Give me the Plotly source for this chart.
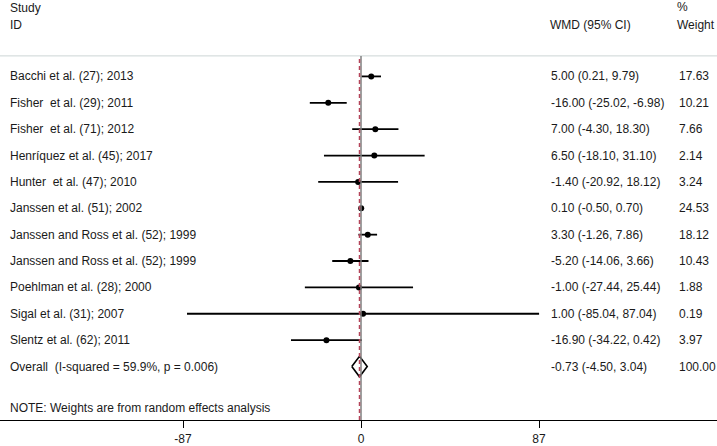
import plotly.graph_objects as go

studies = [
    "Bacchi et al. (27); 2013",
    "Fisher  et al. (29); 2011",
    "Fisher  et al. (71); 2012",
    "Henríquez et al. (45); 2017",
    "Hunter  et al. (47); 2010",
    "Janssen et al. (51); 2002",
    "Janssen and Ross et al. (52); 1999",
    "Janssen and Ross et al. (52); 1999",
    "Poehlman et al. (28); 2000",
    "Sigal et al. (31); 2007",
    "Slentz et al. (62); 2011",
]
wmd = [5.00, -16.00, 7.00, 6.50, -1.40, 0.10, 3.30, -5.20, -1.00, 1.00, -16.90]
lower = [0.21, -25.02, -4.30, -18.10, -20.92, -0.50, -1.26, -14.06, -27.44, -85.04, -34.22]
upper = [9.79, -6.98, 18.30, 31.10, 18.12, 0.70, 7.86, 3.66, 25.44, 87.04, 0.42]
weights = [17.63, 10.21, 7.66, 2.14, 3.24, 24.53, 18.12, 10.43, 1.88, 0.19, 3.97]

overall_label = "Overall  (I-squared = 59.9%, p = 0.006)"
overall = -0.73
overall_lo = -4.50
overall_hi = 3.04
overall_w = 100.00

tick_vals = [-87, 0, 87]
tick_text = ["-87", "0", "87"]
note = "NOTE: Weights are from random effects analysis"

W, H = 717, 446
B = 20
PH = H - B  # plot-area height in px
FONT = "Arial, Liberation Sans, sans-serif"
TXT = "#1a1a1a"

n = len(studies)
rows = list(range(n))
row_overall = n

# y mapping: row r sits at px 77.5 + 26.75*r
R0, RS = 77.5, 26.75
y_top = -R0 / RS
y_bot = (PH - R0) / RS

# x mapping: zero at px 361, 2.046 px/unit
pxu = 2.046
x_min = -361 / pxu
x_max = (W - 361) / pxu

fig = go.Figure()

# CI lines
cx, cy = [], []
for r, lo, hi in zip(rows, lower, upper):
    cx += [lo, hi, None]
    cy += [r, r, None]
fig.add_trace(go.Scatter(x=cx, y=cy, mode="lines",
                         line=dict(color="black", width=1.8),
                         hoverinfo="skip", showlegend=False))
# point estimates
fig.add_trace(go.Scatter(x=wmd, y=rows, mode="markers",
                         marker=dict(color="black", size=6, symbol="circle"),
                         showlegend=False))
# overall diamond
dh = 0.39
fig.add_trace(go.Scatter(
    x=[overall_lo, overall, overall_hi, overall, overall_lo],
    y=[row_overall, row_overall - dh, row_overall, row_overall + dh, row_overall],
    mode="lines", line=dict(color="black", width=1.6),
    showlegend=False, hoverinfo="skip"))

sep_paper = 1 - 56.7 / PH

shapes = [
    # header separator
    dict(type="line", xref="paper", yref="paper", x0=0, x1=1,
         y0=sep_paper, y1=sep_paper, line=dict(color="#cdd5d5", width=1)),
    # null line
    dict(type="line", xref="x", yref="paper", x0=0, x1=0, y0=0, y1=sep_paper,
         line=dict(color="#7f7f7f", width=1.5)),
    # overall dashed line
    dict(type="line", xref="x", yref="paper", x0=overall, x1=overall, y0=0, y1=sep_paper,
         line=dict(color="#b5455a", width=1.5, dash="4px,3px")),
]

ann = []
def add_text(text, xpx, y, yref="y"):
    ann.append(dict(text=text, x=xpx / W, xref="paper", y=y, yref=yref,
                    xanchor="left", yanchor="middle", showarrow=False,
                    font=dict(family=FONT, size=12, color=TXT)))

def py(px):
    return 1 - px / PH

add_text("Study", 8, py(8.5), "paper")
add_text("ID", 8, py(25), "paper")
add_text("WMD (95% CI)", 548, py(25), "paper")
add_text("%", 675, py(7), "paper")
add_text("Weight", 675, py(25), "paper")

for r, s, e, lo, hi, w in zip(rows, studies, wmd, lower, upper, weights):
    add_text(s, 8, r)
    add_text(f"{e:.2f} ({lo:.2f}, {hi:.2f})", 549, r)
    add_text(f"{w:.2f}", 677, r)

add_text(overall_label, 8, row_overall)
add_text(f"{overall:.2f} ({overall_lo:.2f}, {overall_hi:.2f})", 549, row_overall)
add_text(f"{overall_w:.2f}", 677, row_overall)
add_text(note, 8, py(413.5), "paper")

fig.update_layout(
    width=W, height=H,
    margin=dict(l=0, r=0, t=0, b=B, pad=0),
    plot_bgcolor="white", paper_bgcolor="white",
    shapes=shapes, annotations=ann,
    xaxis=dict(range=[x_min, x_max], tickvals=tick_vals, ticktext=tick_text,
               showgrid=False, zeroline=False, showline=True,
               linecolor="black", linewidth=1.2, ticks="outside", ticklen=7,
               tickwidth=1.2, tickcolor="black",
               tickfont=dict(family=FONT, size=12, color=TXT), fixedrange=True),
    yaxis=dict(range=[y_bot, y_top], showgrid=False, zeroline=False,
               showticklabels=False, showline=False, fixedrange=True),
    showlegend=False,
)

fig.write_html("out.html", config={"displayModeBar": False},
               post_script="document.body.style.margin='0';document.body.style.overflow='hidden';")
